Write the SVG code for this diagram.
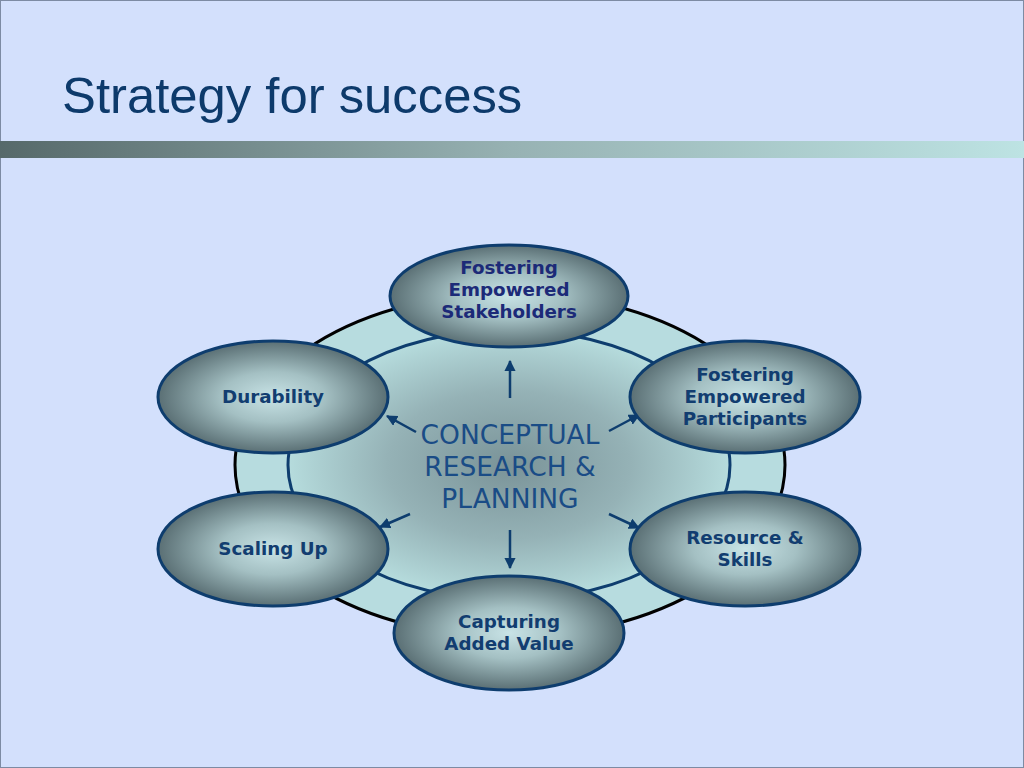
<svg xmlns="http://www.w3.org/2000/svg" width="1024" height="768" viewBox="0 0 1024 768">
<style>
.node{fill:url(#nodeGrad);stroke:#0e3d6e;stroke-width:3}
.nt{font-family:"DejaVu Sans",Verdana,sans-serif;font-weight:bold;font-size:18.3px;fill:#123d70;text-anchor:middle}
.ct{font-family:"DejaVu Sans",Verdana,sans-serif;font-size:26.5px;fill:#1a4c86;text-anchor:middle}
.arr{stroke:#0e3d6e;stroke-width:2.5;fill:none;marker-end:url(#ah)}
</style>
<defs>
<radialGradient id="nodeGrad" cx="50%" cy="50%" r="50%">
<stop offset="0" stop-color="#c8e3e6"/>
<stop offset="0.45" stop-color="#a4c0c3"/>
<stop offset="1" stop-color="#5a6f74"/>
</radialGradient>
<radialGradient id="centerGrad" cx="50%" cy="50%" r="50%">
<stop offset="0" stop-color="#7a9398"/>
<stop offset="0.55" stop-color="#95b2b6"/>
<stop offset="1" stop-color="#b6dcdd"/>
</radialGradient>
<linearGradient id="barGrad" x1="0" y1="0" x2="1" y2="0">
<stop offset="0" stop-color="#56696a"/>
<stop offset="0.5" stop-color="#97b2b3"/>
<stop offset="1" stop-color="#bde3e3"/>
</linearGradient>
<marker id="ah" viewBox="0 0 10 10" refX="9" refY="5" markerWidth="4.5" markerHeight="4.5" orient="auto" markerUnits="strokeWidth">
<path d="M0,0 L10,5 L0,10 z" fill="#0e3d6e"/>
</marker>
</defs>
<rect x="0" y="0" width="1024" height="768" fill="#d3e0fc"/>
<rect x="0.5" y="0.5" width="1023" height="767" fill="none" stroke="#7d8ba3" stroke-width="1"/>
<text x="62" y="113" font-family="Liberation Sans,Arial,sans-serif" font-size="50.8" fill="#0d3a6b">Strategy for success</text>
<rect x="0" y="141" width="1024" height="17" fill="url(#barGrad)"/>

<g id="background-rings">
<ellipse cx="510" cy="465" rx="275" ry="172" fill="#b7dcdf" stroke="#000" stroke-width="3"/>
<ellipse cx="509" cy="465" rx="221" ry="135" fill="url(#centerGrad)" stroke="#0e3d6e" stroke-width="3"/>
</g>

<g id="connectors">
<line class="arr" x1="510" y1="398" x2="510" y2="361"/>
<line class="arr" x1="510" y1="530" x2="510" y2="568"/>
<line class="arr" x1="416" y1="432" x2="387" y2="416"/>
<line class="arr" x1="609" y1="431" x2="639" y2="415"/>
<line class="arr" x1="410" y1="514" x2="380" y2="527"/>
<line class="arr" x1="609" y1="514" x2="639" y2="528"/>
</g>

<g id="center">
<text class="ct" x="510" y="444">CONCEPTUAL</text>
<text class="ct" x="510" y="476">RESEARCH &amp;</text>
<text class="ct" x="510" y="508">PLANNING</text>
</g>

<g id="node-stakeholders">
<ellipse class="node" cx="509" cy="296" rx="119" ry="51"/>
<text class="nt" x="509" y="274" style="fill:#1c2a78">Fostering</text>
<text class="nt" x="509" y="296" style="fill:#1c2a78">Empowered</text>
<text class="nt" x="509" y="318" style="fill:#1c2a78">Stakeholders</text>
</g>
<g id="node-durability">
<ellipse class="node" cx="273" cy="397" rx="115" ry="56"/>
<text class="nt" x="273" y="403">Durability</text>
</g>
<g id="node-participants">
<ellipse class="node" cx="745" cy="397" rx="115" ry="56"/>
<text class="nt" x="745" y="381">Fostering</text>
<text class="nt" x="745" y="403">Empowered</text>
<text class="nt" x="745" y="425">Participants</text>
</g>
<g id="node-scaling">
<ellipse class="node" cx="273" cy="549" rx="115" ry="57"/>
<text class="nt" x="273" y="555">Scaling Up</text>
</g>
<g id="node-resource">
<ellipse class="node" cx="745" cy="549" rx="115" ry="57"/>
<text class="nt" x="745" y="544">Resource &amp;</text>
<text class="nt" x="745" y="566">Skills</text>
</g>
<g id="node-capturing">
<ellipse class="node" cx="509" cy="633" rx="115" ry="57"/>
<text class="nt" x="509" y="628">Capturing</text>
<text class="nt" x="509" y="650">Added Value</text>
</g>
</svg>
